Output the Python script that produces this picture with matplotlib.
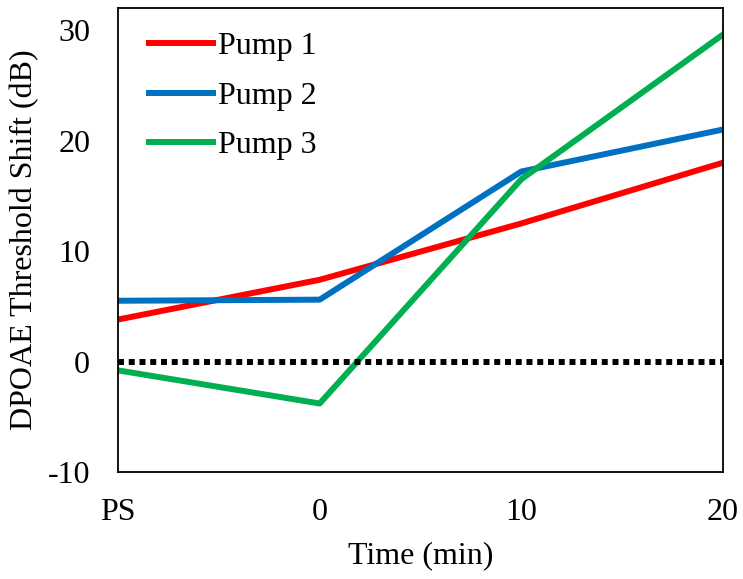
import matplotlib
matplotlib.use("Agg")
import matplotlib.pyplot as plt

categories = ["PS", "0", "10", "20"]
pump1 = [3.8, 7.4, 12.5, 18.0]
pump2 = [5.5, 5.6, 17.2, 21.0]
pump3 = [-0.8, -3.8, 16.5, 29.6]
series_names = ["Pump 1", "Pump 2", "Pump 3"]
colors = ["#FF0000", "#0070C0", "#00B050"]

plt.rcParams["font.family"] = ["Liberation Serif", "DejaVu Serif"]
plt.rcParams["axes.unicode_minus"] = False

fig = plt.figure(figsize=(7.43, 5.79), dpi=100)
ax = fig.add_axes([118 / 743, 1 - 472 / 579, (723 - 118) / 743, (472 - 8) / 579])

x = list(range(len(categories)))
for vals, name, c in zip([pump1, pump2, pump3], series_names, colors):
    ax.plot(x, vals, color=c, lw=4.3, label=name, solid_joinstyle="round")

# zero reference line
ax.axhline(0, color="black", lw=4.3, linestyle=(0, (1, 0.8)))

ax.set_xlim(0, len(categories) - 1)
ax.set_ylim(-10, 32)
ax.set_yticks([-10, 0, 10, 20, 30])
ax.set_xticks(x)
ax.set_xticklabels(categories)
ax.tick_params(length=0, labelsize=23)
ax.tick_params(axis="x", pad=19)
ax.tick_params(axis="y", pad=20)
for s in ax.spines.values():
    s.set_linewidth(1.3)

ax.set_xlabel("Time (min)", fontsize=23, labelpad=10)
ax.set_ylabel("DPOAE Threshold Shift (dB)", fontsize=23, labelpad=6)

ax.legend(loc="upper left", frameon=False, fontsize=23, handlelength=2.0,
          handletextpad=0.15, labelspacing=0.63, borderpad=0, borderaxespad=0,
          bbox_to_anchor=(0.051, 0.948))

fig.savefig("out.png", dpi=100)
